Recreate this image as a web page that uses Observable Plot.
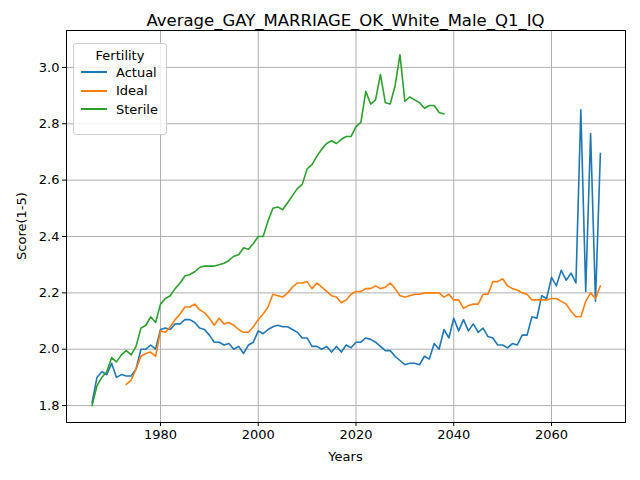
<!DOCTYPE html>
<html><head><meta charset="utf-8">
<script src="https://cdn.jsdelivr.net/npm/d3@7"></script>
<script src="https://cdn.jsdelivr.net/npm/@observablehq/plot@0.6"></script>
<style>body{margin:0;font-family:"DejaVu Sans",sans-serif;}#c{position:relative;width:640px;height:480px;}
#t{position:absolute;top:11px;left:66px;width:559px;text-align:center;font-size:16.5px;z-index:2;}
#lg{position:absolute;left:73px;top:43px;width:92px;height:90px;border:1px solid #ccc;border-radius:3px;background:rgba(255,255,255,0.8);font-size:13px;z-index:2;}
#lg .h{text-align:center;margin-top:4px;}
#lg .r{display:flex;align-items:center;height:18.5px;padding-left:7px;}
#lg .r span{display:inline-block;width:26px;height:2px;margin-right:9px;}
</style></head><body>
<div id="c"><div id="t">Average_GAY_MARRIAGE_OK_White_Male_Q1_IQ</div>
<div id="lg"><div class="h">Fertility</div>
<div class="r"><span style="background:#1f77b4"></span>Actual</div>
<div class="r"><span style="background:#ff7f0e"></span>Ideal</div>
<div class="r"><span style="background:#2ca02c"></span>Sterile</div></div></div>
<script>
const actualStart=1966;
const actual=[1.81,1.90,1.92,1.91,1.95,1.90,1.91,1.905,1.905,1.93,2.00,2.00,2.015,2.00,2.07,2.075,2.07,2.09,2.09,2.105,2.105,2.095,2.075,2.07,2.05,2.025,2.025,2.015,2.02,2.00,2.01,1.985,2.015,2.025,2.065,2.055,2.07,2.08,2.085,2.08,2.08,2.07,2.06,2.04,2.04,2.01,2.01,2.00,2.01,1.99,2.01,1.99,2.015,2.005,2.025,2.025,2.04,2.035,2.025,2.01,1.995,1.995,1.975,1.96,1.945,1.95,1.95,1.945,1.975,1.965,2.02,2.00,2.07,2.04,2.11,2.065,2.105,2.065,2.09,2.06,2.075,2.045,2.04,2.015,2.015,2.005,2.02,2.015,2.05,2.05,2.115,2.11,2.19,2.18,2.255,2.225,2.28,2.245,2.27,2.235,2.85,2.205,2.765,2.17,2.695];
const idealStart=1973;
const ideal=[1.875,1.89,1.93,1.975,1.985,1.99,1.975,2.065,2.06,2.08,2.105,2.125,2.15,2.15,2.16,2.14,2.13,2.11,2.085,2.11,2.09,2.095,2.085,2.07,2.06,2.06,2.08,2.105,2.125,2.15,2.195,2.19,2.185,2.2,2.22,2.235,2.235,2.24,2.215,2.235,2.22,2.205,2.19,2.185,2.165,2.175,2.195,2.205,2.205,2.215,2.215,2.225,2.215,2.22,2.235,2.215,2.19,2.185,2.19,2.195,2.195,2.2,2.2,2.2,2.2,2.185,2.195,2.175,2.175,2.145,2.155,2.16,2.16,2.195,2.195,2.24,2.24,2.25,2.225,2.215,2.21,2.2,2.195,2.175,2.175,2.175,2.175,2.18,2.18,2.17,2.16,2.135,2.115,2.115,2.17,2.2,2.18,2.225];
const sterileStart=1966;
const sterile=[1.80,1.87,1.90,1.92,1.97,1.955,1.98,1.995,1.98,2.01,2.075,2.085,2.115,2.095,2.16,2.18,2.19,2.215,2.235,2.26,2.265,2.275,2.29,2.295,2.295,2.295,2.30,2.305,2.315,2.33,2.335,2.36,2.355,2.375,2.40,2.40,2.455,2.50,2.505,2.495,2.52,2.545,2.57,2.585,2.64,2.655,2.685,2.71,2.73,2.74,2.73,2.745,2.755,2.755,2.79,2.805,2.915,2.87,2.885,2.975,2.875,2.87,2.935,3.045,2.88,2.895,2.885,2.875,2.855,2.865,2.865,2.84,2.835];
const series=[["Actual",actualStart,actual],["Ideal",idealStart,ideal],["Sterile",sterileStart,sterile]];
const data=series.flatMap(([k,s,v])=>v.map((y,i)=>({k,x:s+i,y})));
const xt=[1980,2000,2020,2040,2060], yt=[1.8,2.0,2.2,2.4,2.6,2.8,3.0];
const p=Plot.plot({width:640,height:480,marginLeft:66,marginRight:15,marginTop:30,marginBottom:58,
style:{fontFamily:"DejaVu Sans",fontSize:"13px",background:"white",color:"black"},
x:{domain:[1960.77,2075.14],label:null},
y:{domain:[1.74,3.131],label:null},
color:{domain:["Actual","Ideal","Sterile"],range:["#1f77b4","#ff7f0e","#2ca02c"]},
marks:[
Plot.gridX(xt,{stroke:"#b0b0b0",strokeOpacity:1}),
Plot.gridY(yt,{stroke:"#b0b0b0",strokeOpacity:1}),
Plot.axisX(xt,{tickFormat:d=>String(d),tickSize:4,tickPadding:3}),
Plot.axisY(yt,{tickFormat:d3.format(".1f"),tickSize:4,tickPadding:3}),
Plot.frame(),
Plot.line(data,{x:"x",y:"y",stroke:"k",strokeWidth:1.6})]});
document.getElementById("c").prepend(p);
p.style.position="absolute";p.style.left="0";p.style.top="0";
const ns="http://www.w3.org/2000/svg";
function txt(s,x,y,rot){const t=document.createElementNS(ns,"text");t.textContent=s;t.setAttribute("text-anchor","middle");t.setAttribute("font-size","13");t.setAttribute("transform",`translate(${x},${y})`+(rot?" rotate(-90)":""));p.appendChild(t);}
txt("Years",345.5,461,false);txt("Score(1-5)",26,226,true);
</script></body></html>
